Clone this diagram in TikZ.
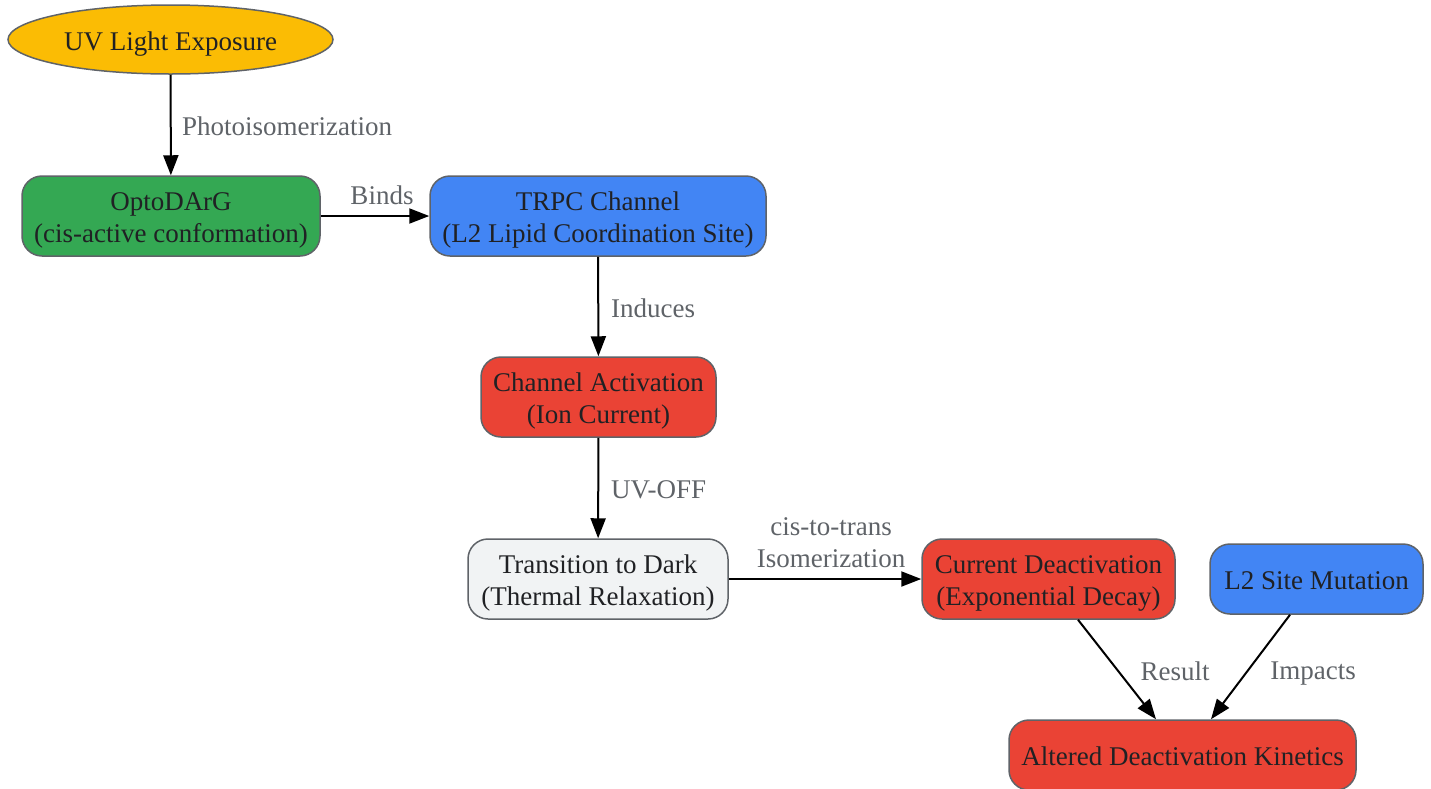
\documentclass[tikz,border=0pt]{standalone}
\usepackage{fontspec}
\setmainfont{Liberation Serif}
\usetikzlibrary{shapes.geometric,arrows.meta,calc}
\definecolor{cyel}{HTML}{FBBC04}
\definecolor{cgrn}{HTML}{34A853}
\definecolor{cblu}{HTML}{4285F4}
\definecolor{cred}{HTML}{EA4335}
\definecolor{clgt}{HTML}{F1F3F4}
\definecolor{bordc}{HTML}{5F6368}
\definecolor{txtc}{HTML}{202124}
\definecolor{lblc}{HTML}{5F6368}
\newcommand{\twol}[2]{\begin{tabular}{@{}c@{}}\rule{0pt}{29.6pt}#1\\#2\end{tabular}}
\begin{document}
\begin{tikzpicture}[x=1pt,y=-1pt,
  box/.style={draw=bordc, line width=1.5pt, rounded corners=20pt, minimum height=80pt, inner sep=0pt, text=txtc, font=\fontsize{27}{32}\selectfont},
  oneline/.style={execute at begin node={\rule{0pt}{21pt}}},
  lbl/.style={text=lblc, font=\fontsize{27}{32}\selectfont, align=center, inner sep=0pt},
  conn/.style={line width=2pt, draw=black, -{Triangle[length=20pt,width=15pt]}}]
\useasboundingbox (0,0) rectangle (1431,788);

\node[ellipse, draw=bordc, line width=1.5pt, fill=cyel, minimum width=325pt, minimum height=69pt, inner sep=0pt, text=txtc, font=\fontsize{27}{32}\selectfont, execute at begin node={\rule{0pt}{28.5pt}}] (uv) at (170.5,39.5) {UV Light Exposure};
\node[box, fill=cgrn, minimum width=298pt] (opto) at (171,216) {\twol{OptoDArG}{(cis-active conformation)}};
\node[box, fill=cblu, minimum width=336pt] (trpc) at (598,216) {\twol{TRPC Channel}{(L2 Lipid Coordination Site)}};
\node[box, fill=cred, minimum width=235pt] (act) at (598.5,397) {\twol{Channel Activation}{(Ion Current)}};
\node[box, fill=clgt, minimum width=260pt] (dark) at (598,579) {\twol{Transition to Dark}{(Thermal Relaxation)}};
\node[box, fill=cred, minimum width=253pt] (deact) at (1048.5,579) {\twol{Current Deactivation}{(Exponential Decay)}};
\node[box, oneline, fill=cblu, minimum width=213pt, minimum height=70pt] (mut) at (1316.5,579) {L2 Site Mutation};
\node[box, oneline, fill=cred, minimum width=347pt, minimum height=70pt] (alt) at (1182.5,755) {Altered Deactivation Kinetics};

\draw[conn] (uv) -- (opto);
\draw[conn] (opto) -- (trpc);
\draw[conn] (trpc) -- (act);
\draw[conn] (act) -- (dark);
\draw[conn] (dark) -- (deact);
\draw[conn] ([xshift=29.5pt]deact.south) -- ([xshift=-26.5pt]alt.north);
\draw[conn] ([xshift=-26.5pt]mut.south) -- ([xshift=28.5pt]alt.north);

\node[lbl, anchor=west] (l1) at (182,126) {Photoisomerization};
\node[lbl] (l2) at (382,195) {Binds};
\node[lbl, anchor=west] (l3) at (611,308) {Induces};
\node[lbl, anchor=west] (l4) at (611,490) {UV-OFF};
\node[lbl] (l5) at (831,543) {cis-to-trans\\Isomerization};
\node[lbl] (l6) at (1175,671) {Result};
\node[lbl] (l7) at (1313,674) {Impacts};
\end{tikzpicture}
\end{document}
